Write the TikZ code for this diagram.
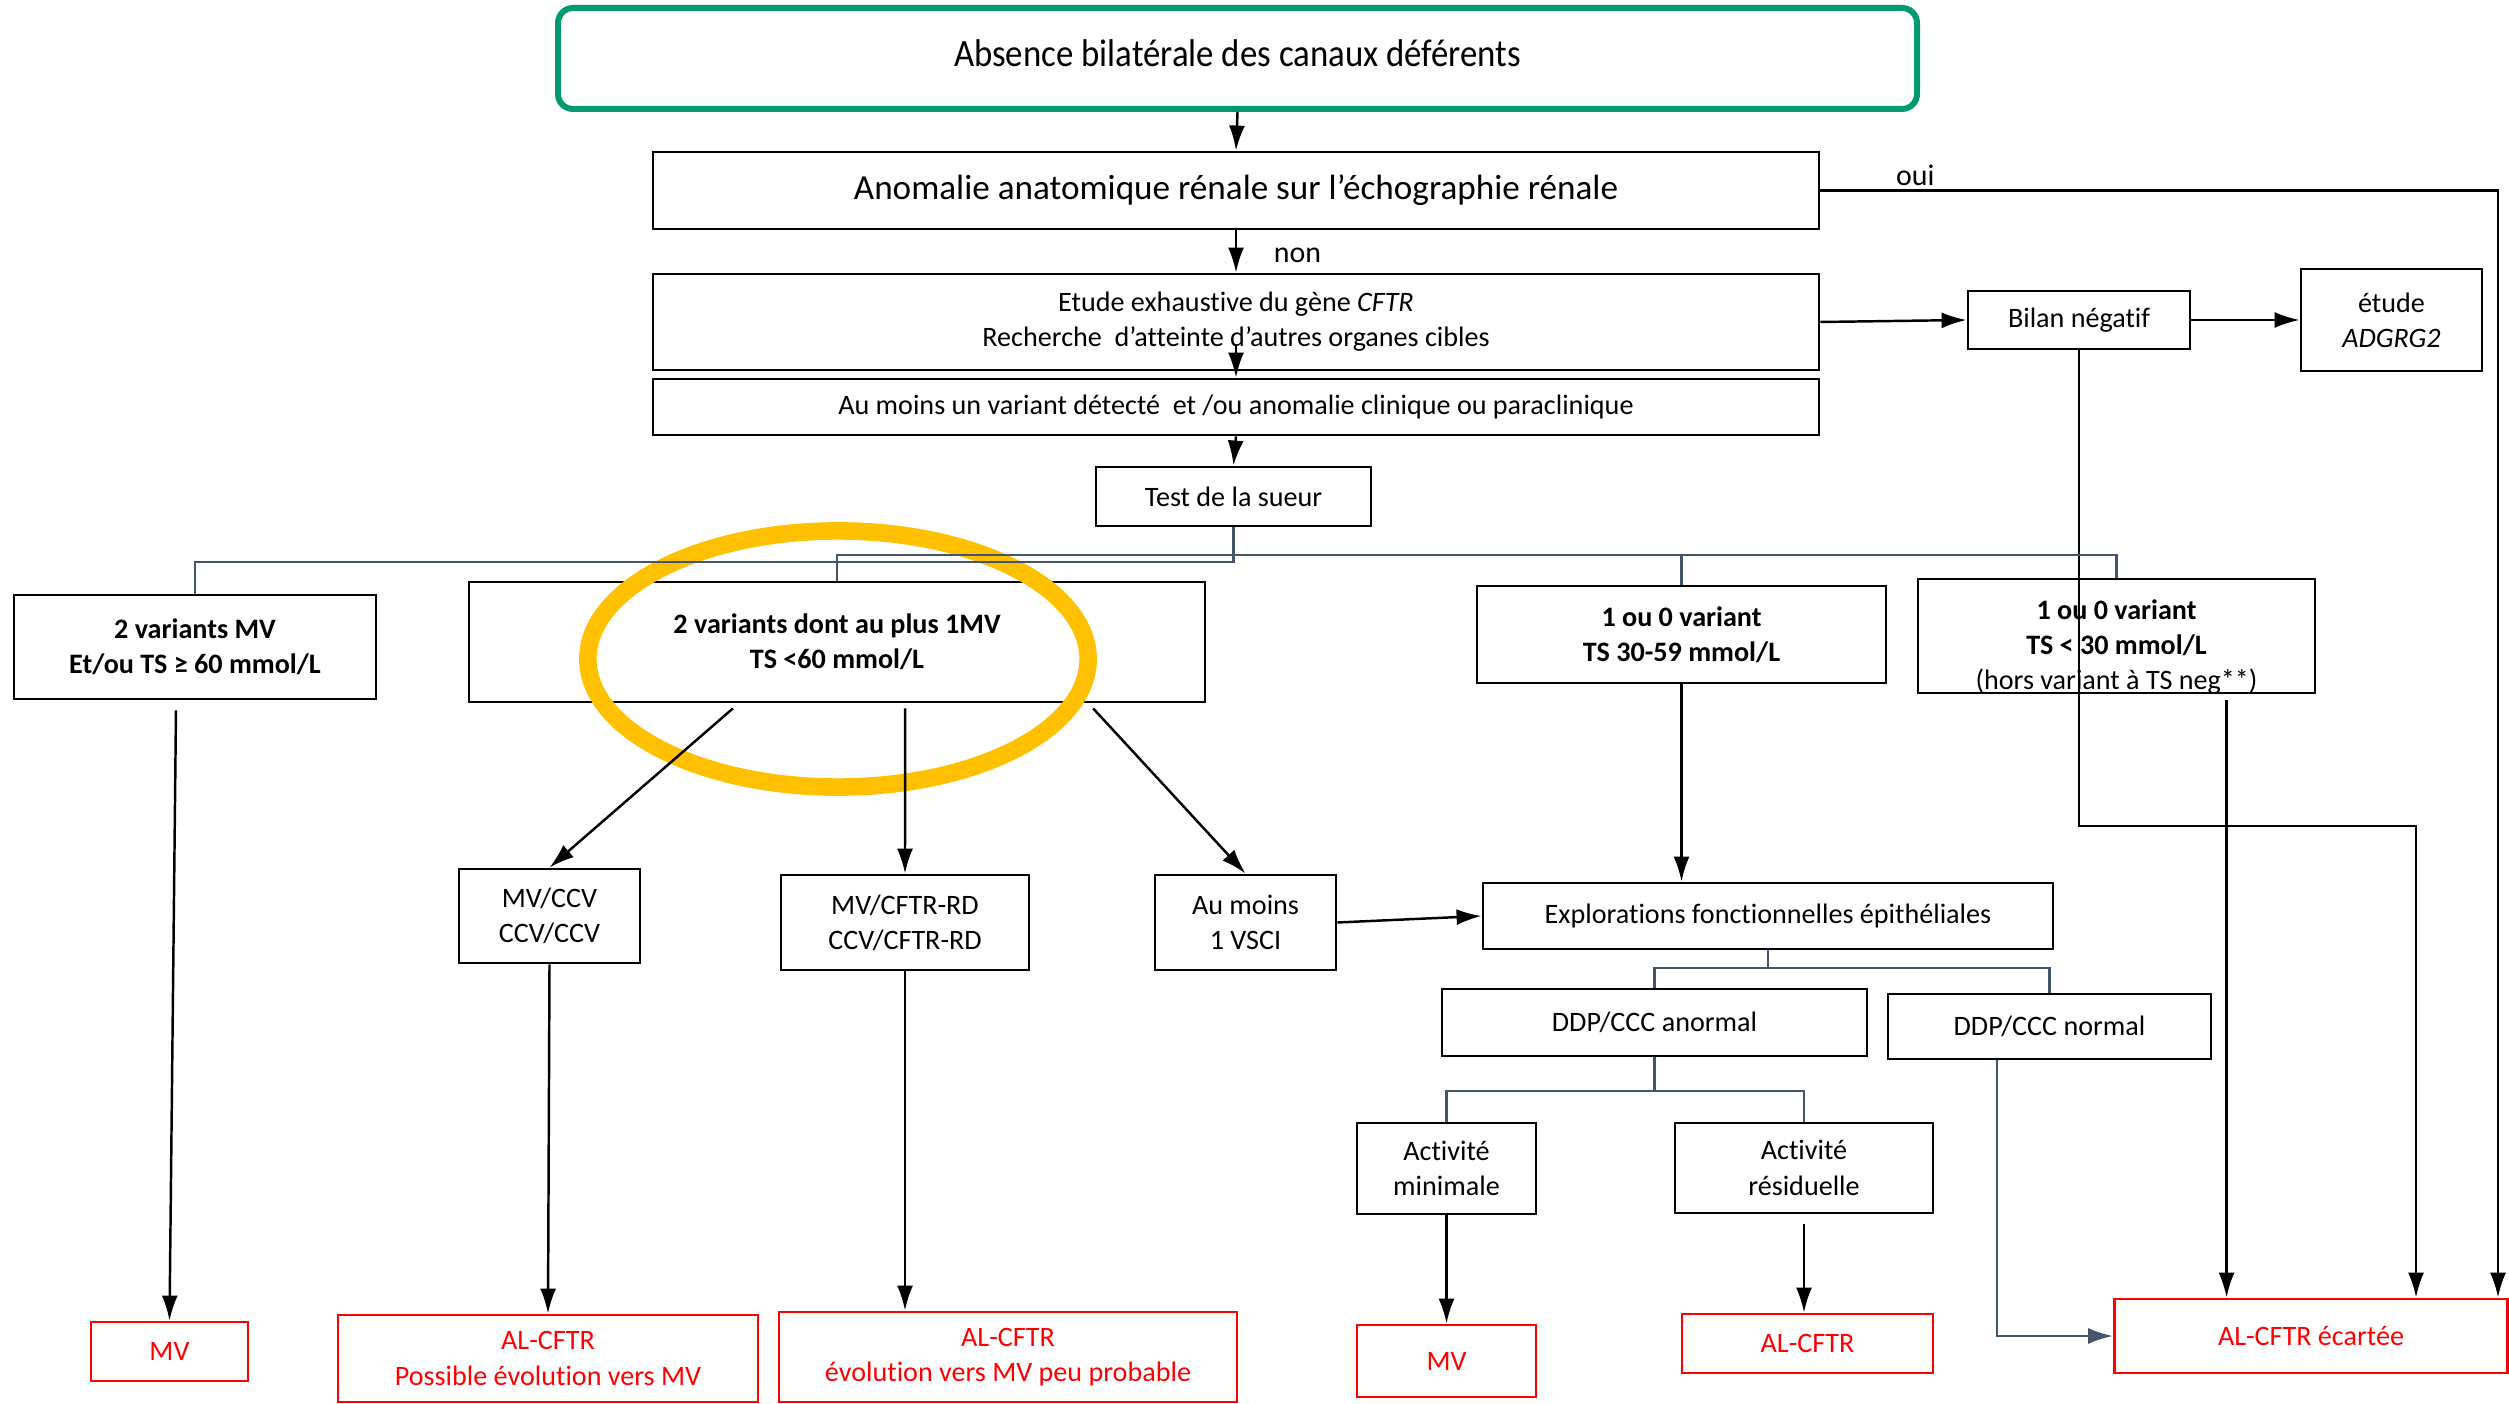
\documentclass[tikz,border=0pt]{standalone}
\usepackage{fontspec}
\setmainfont{Carlito}[Ligatures=NoCommon]
\usepackage{xcolor}
\usetikzlibrary{arrows.meta,positioning,calc}

\definecolor{framegreen}{RGB}{0,153,112}
\definecolor{slate}{RGB}{68,84,106}
\definecolor{alred}{RGB}{255,0,0}
\definecolor{ringyellow}{RGB}{255,192,0}

\newcommand{\boxfont}{\fontsize{8}{10}\selectfont}
\newcommand{\bigfont}{\fontsize{10}{12}\selectfont}
\newcommand{\titlefont}{\fontsize{11}{12}\selectfont\addfontfeatures{FakeStretch=0.9}}

\begin{document}
\begin{tikzpicture}[
  x=0.01cm, y=-0.01cm,
  box/.style={draw, line width=0.8pt, align=center, inner sep=1pt, font=\boxfont},
  boldbox/.style={box, font=\boxfont\bfseries},
  outbox/.style={box, draw=alred, text=alred},
  sz/.style 2 args={minimum width=#1*0.01cm, minimum height=#2*0.01cm},
  arr/.style={-{Latex[length=2.5mm,width=1.6mm]}, line width=0.7pt},
  link/.style={draw=slate, line width=0.6pt}
]
\useasboundingbox (0,0) rectangle (2509,1404);

% main column
\node[box, draw=framegreen, line width=1.7pt, rounded corners=0.15cm, sz={1359}{101}] (absence) at (1237.5,58.5) {};
\node[font=\titlefont, inner sep=0pt] (absencetext) at ([yshift=0.05cm]absence.center) {Absence bilatérale des canaux déférents};
\node[box, sz={1166}{77}, font=\bigfont] (anomalie) at (1236,190.5) {Anomalie anatomique rénale sur l’échographie rénale};
\node[box, sz={1166}{96}] (etude) at (1236,322) {Etude exhaustive du gène \textit{CFTR}\\Recherche\ \ d’atteinte d’autres organes cibles};
\node[box, sz={1166}{56}] (variant) at (1236,407) {Au moins un variant détecté\ \ et /ou anomalie clinique ou paraclinique};
\node[box, sz={275}{59}] (sueur) at (1233.5,496.5) {Test de la sueur};
\node[box, sz={222}{58}] (bilan) at (2079,320) {Bilan négatif};
\node[box, sz={181}{102}] (adgrg) at (2391.5,320) {étude\\\textit{ADGRG2}};

% sweat test results
\node[boldbox, sz={362}{104}] (mvdeux) at (195,647) {2 variants MV\\Et/ou TS ≥ 60 mmol/L};
\node[boldbox, sz={736}{120}] (auplus) at (837,642) {2 variants dont au plus 1MV\\TS <60 mmol/L};
\node[boldbox, sz={409}{97}] (tsmid) at (1681.5,634.5) {1 ou 0 variant\\TS 30-59 mmol/L};
\node[box, sz={397}{114}] (tslow) at (2116.5,636) {};
\node[align=center, font=\boxfont, inner sep=0pt] (tslowtext) at ([yshift=-0.11cm]tslow.center) {\textbf{1 ou 0 variant}\\\textbf{TS < 30 mmol/L}\\(hors variant à TS neg**)};

% genotypes and explorations
\node[box, sz={181}{94}] (mvccv) at (549.5,916) {MV/CCV\\CCV/CCV};
\node[box, sz={248}{95}] (mvrd) at (905,922.5) {MV/CFTR-RD\\CCV/CFTR-RD};
\node[box, sz={181}{95}] (vsci) at (1245.5,922.5) {Au moins\\1 VSCI};
\node[box, sz={570}{66}] (explo) at (1768,916) {Explorations fonctionnelles épithéliales};
\node[box, sz={425}{67}] (anormal) at (1654.5,1022.5) {DDP/CCC anormal};
\node[box, sz={323}{65}] (normal) at (2049.5,1026.5) {DDP/CCC normal};
\node[box, sz={179}{91}] (actmin) at (1446.5,1168.5) {Activité\\minimale};
\node[box, sz={258}{90}] (actres) at (1804,1168) {Activité\\résiduelle};

% conclusions
\node[outbox, sz={157}{59}] (mvA) at (169.5,1351.5) {MV};
\node[outbox, sz={420}{87}] (alpos) at (548,1358.5) {AL-CFTR\\Possible évolution vers MV};
\node[outbox, sz={458}{90}] (alpeu) at (1008,1357) {AL-CFTR\\évolution vers MV peu probable};
\node[outbox, sz={179}{72}] (mvB) at (1446.5,1361) {MV};
\node[outbox, sz={251}{59}] (alres) at (1807.5,1343.5) {AL-CFTR};
\node[outbox, sz={393}{74}] (ecartee) at (2311,1336) {AL-CFTR écartée};

% highlight
\draw[ringyellow, line width=5pt] (838,659) ellipse [x radius=2.5cm, y radius=1.28cm];

% connectors
\coordinate (ouiturn) at (2498,190.5);
\coordinate (fork) at (1233.5,555);
\coordinate (split) at (1768,968);
\coordinate (splitb) at (1654.5,1091);
\coordinate (bilturn) at (2416,826);
\coordinate (tsdrop) at ([xshift=1.1cm,yshift=-0.06cm]tslow.south);

\draw[arr] (absence.south) -- (anomalie.north);
\draw[arr] (anomalie.south) -- node[right, xshift=0.25cm, yshift=-0.04cm, font=\fontsize{8.5}{10}\selectfont] {non} (etude.north);
\draw[arr] (anomalie.east) -- node[above, pos=0.14, yshift=-0.08cm, font=\fontsize{8.5}{10}\selectfont] {oui} (ouiturn) -- (ouiturn |- ecartee.north);
\draw[arr] ([yshift=0.26cm]etude.south) -- (variant.north);
\draw[arr] (variant.south) -- (sueur.north);
\draw[arr] (etude.east) -- (bilan.west);
\draw[arr] (bilan.east) -- (adgrg.west);
\draw[arr] (bilan.south) |- (bilturn) -- (bilturn |- ecartee.north);

\draw[link] (sueur.south) -- (fork) -| (auplus.north);
\draw[link] (fork) -| (tsmid.north);
\draw[link] (fork) -| (tslow.north);
\draw[link] (sueur.south) -- (1233.5,562) -| (mvdeux.north);

\draw[arr] ([xshift=-0.19cm,yshift=-0.1cm]mvdeux.south) -- (mvA.north);
\draw[arr] ([xshift=-1.04cm,yshift=-0.05cm]auplus.south) -- (mvccv.north);
\draw[arr] ([xshift=0.68cm,yshift=-0.05cm]auplus.south) -- (mvrd.north);
\draw[arr] ([xshift=2.56cm,yshift=-0.05cm]auplus.south) -- (vsci.north);
\draw[arr] (mvccv.south) -- (alpos.north);
\draw[arr] (mvrd.south) -- (mvrd.south |- alpeu.north);
\draw[arr] (vsci.east) -- (explo.west);
\draw[arr] (tsmid.south) -- (tsmid.south |- explo.north);
\draw[arr] (tsdrop) -- (tsdrop |- ecartee.north);

\draw[link] (explo.south) -- (split) -| (anormal.north);
\draw[link] (split) -| (normal.north);
\draw[link] (anormal.south) -- (splitb) -| (actmin.north);
\draw[link] (splitb) -| (actres.north);
\draw[arr] (actmin.south) -- (mvB.north);
\draw[arr] ([yshift=-0.1cm]actres.south) -- (actres.south |- alres.north);
\draw[arr, color=slate] ([xshift=-0.525cm]normal.south) |- (ecartee.west);
\end{tikzpicture}
\end{document}
